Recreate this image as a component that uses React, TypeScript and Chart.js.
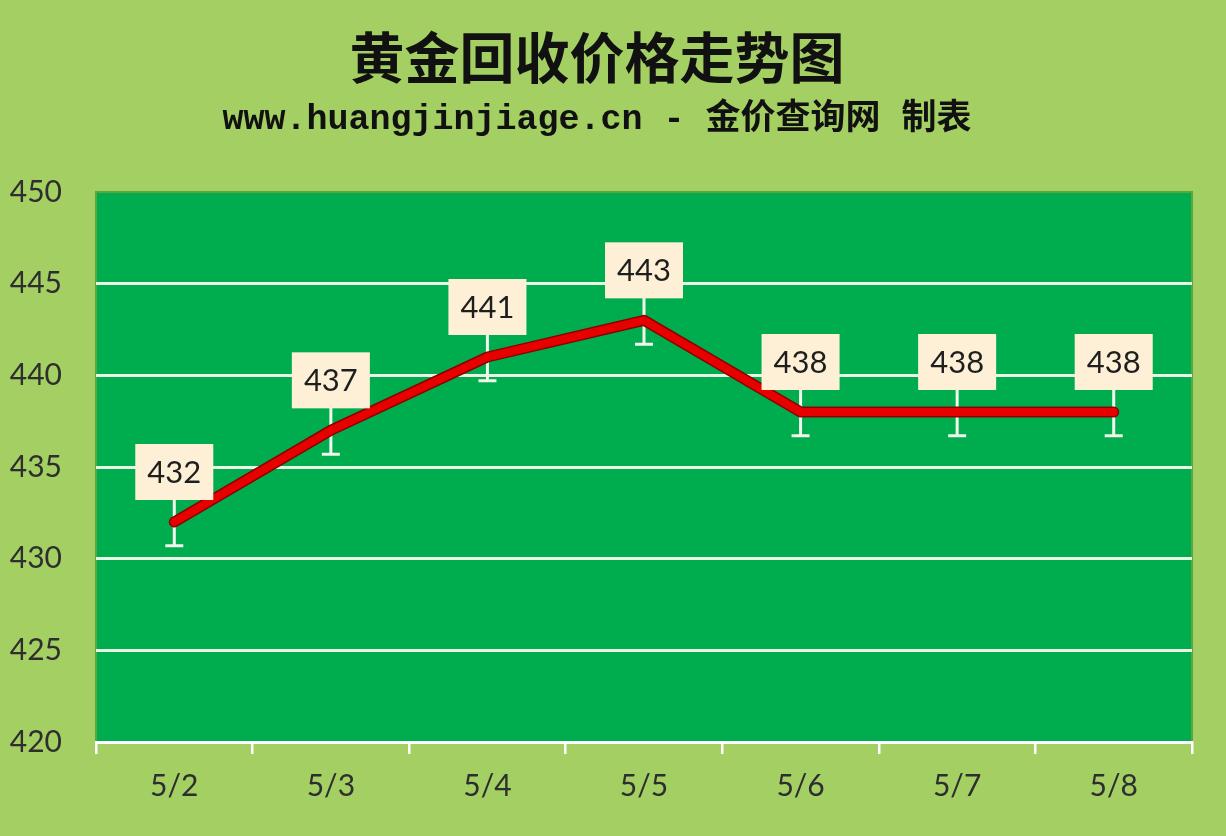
import { useEffect, useRef } from "react";
import { Chart, registerables } from "chart.js";

Chart.register(...registerables);

// chart data
const dates = ["5/2", "5/3", "5/4", "5/5", "5/6", "5/7", "5/8"];
const prices = [432, 437, 441, 443, 438, 438, 438];
const errorAmount = 1.3;
const yMin = 420;
const yMax = 450;
const yStep = 5;
const titleText = "黄金回收价格走势图";
const subtitleText = "www.huangjinjiage.cn - 金价查询网 制表";

const PAGE_BG = "#a3cf63";
const PLOT_BG = "#00ad4e";
const GRID = "#eaf6e4";
const TEXT = "#2e2e2e";

const backgroundPlugin = {
  id: "bg",
  beforeDraw(chart: any) {
    const { ctx, chartArea: a, width, height } = chart;
    ctx.save();
    ctx.fillStyle = PAGE_BG;
    ctx.fillRect(0, 0, width, height);
    ctx.fillStyle = PLOT_BG;
    ctx.fillRect(a.left, a.top, a.right - a.left, a.bottom - a.top);
    ctx.strokeStyle = "#5aa73f";
    ctx.lineWidth = 2;
    ctx.strokeRect(a.left, a.top, a.right - a.left, a.bottom - a.top);
    ctx.restore();
  },
  afterDraw(chart: any) {
    const { ctx } = chart;
    ctx.save();
    ctx.fillStyle = "#111";
    ctx.textAlign = "center";
    ctx.textBaseline = "middle";
    ctx.font = "bold 55px 'Noto Sans CJK SC'";
    ctx.fillText(titleText, 597, 57);
    ctx.font = "bold 35px 'Liberation Mono', 'Noto Sans CJK SC'";
    ctx.fillText(subtitleText, 597, 120);
    ctx.restore();
  },
};

const errorBarPlugin = {
  id: "errbars",
  beforeDatasetsDraw(chart: any) {
    const { ctx } = chart;
    const meta = chart.getDatasetMeta(0);
    const yScale = chart.scales.y;
    ctx.save();
    ctx.strokeStyle = "#f3f8ec";
    ctx.lineWidth = 3;
    meta.data.forEach((pt: any, i: number) => {
      const x = pt.x;
      const lo = yScale.getPixelForValue(prices[i] - errorAmount);
      const hi = yScale.getPixelForValue(prices[i] + errorAmount);
      ctx.beginPath();
      ctx.moveTo(x, lo);
      ctx.lineTo(x, hi);
      ctx.moveTo(x - 9, lo);
      ctx.lineTo(x + 9, lo);
      ctx.moveTo(x - 9, hi);
      ctx.lineTo(x + 9, hi);
      ctx.stroke();
    });
    ctx.restore();
  },
};

const labelPlugin = {
  id: "boxlabels",
  afterDatasetsDraw(chart: any) {
    const { ctx } = chart;
    const meta = chart.getDatasetMeta(0);
    ctx.save();
    ctx.font = "31px Lato";
    ctx.textAlign = "center";
    ctx.textBaseline = "middle";
    meta.data.forEach((pt: any, i: number) => {
      const w = 78;
      const h = 56;
      const cx = pt.x;
      const cy = pt.y - 22 - h / 2;
      ctx.fillStyle = "#fdf0d6";
      ctx.fillRect(cx - w / 2, cy - h / 2, w, h);
      ctx.fillStyle = "#1e1e1e";
      ctx.fillText(String(prices[i]), cx, cy + 1);
    });
    ctx.restore();
  },
};

export default function App() {
  const canvasRef = useRef<HTMLCanvasElement | null>(null);

  useEffect(() => {
    if (canvasRef.current == null) return;
    const chart = new Chart(canvasRef.current, {
      type: "line",
      data: {
        labels: dates,
        datasets: [
          {
            label: "价格",
            data: prices,
            borderColor: "#e60000",
            borderWidth: 8,
            pointRadius: 0,
            borderCapStyle: "round",
            borderJoinStyle: "round",
            tension: 0,
            order: 1,
          },
          {
            label: "outline",
            data: prices,
            borderColor: "#8c0000",
            borderWidth: 11,
            pointRadius: 0,
            borderCapStyle: "round",
            borderJoinStyle: "round",
            tension: 0,
            order: 2,
          },
        ],
      },
      options: {
        responsive: true,
        maintainAspectRatio: false,
        animation: false,
        layout: { padding: { top: 192, right: 34, left: 0, bottom: 0 } },
        plugins: {
          legend: { display: false },
          tooltip: { enabled: false },
        },
        scales: {
          x: {
            offset: true,
            afterFit: (s: any) => {
              s.height = 94;
            },
            grid: {
              offset: true,
              drawOnChartArea: false,
              drawTicks: true,
              tickLength: 12,
              color: "#ffffff",
              lineWidth: 2.5,
            },
            border: { display: true, color: "#ffffff", width: 3 },
            ticks: {
              padding: 14,
              color: TEXT,
              font: { family: "Lato", size: 30 },
            },
          },
          y: {
            min: yMin,
            max: yMax,
            afterFit: (s: any) => {
              s.width = 96;
            },
            grid: {
              drawTicks: false,
              lineWidth: 3,
              color: (c: any) =>
                c.tick && c.tick.value > yMin && c.tick.value < yMax
                  ? GRID
                  : "rgba(0,0,0,0)",
            },
            border: { display: false },
            ticks: {
              stepSize: yStep,
              padding: 34,
              color: TEXT,
              font: { family: "Lato", size: 30 },
            },
          },
        },
      },
      plugins: [backgroundPlugin, errorBarPlugin, labelPlugin],
    });
    return () => {
      chart.destroy();
    };
  }, []);

  return (
    <div
      style={{
        position: "fixed",
        left: 0,
        top: 0,
        width: 1226,
        height: 836,
        background: PAGE_BG,
      }}
    >
      <canvas ref={canvasRef}></canvas>
    </div>
  );
}
